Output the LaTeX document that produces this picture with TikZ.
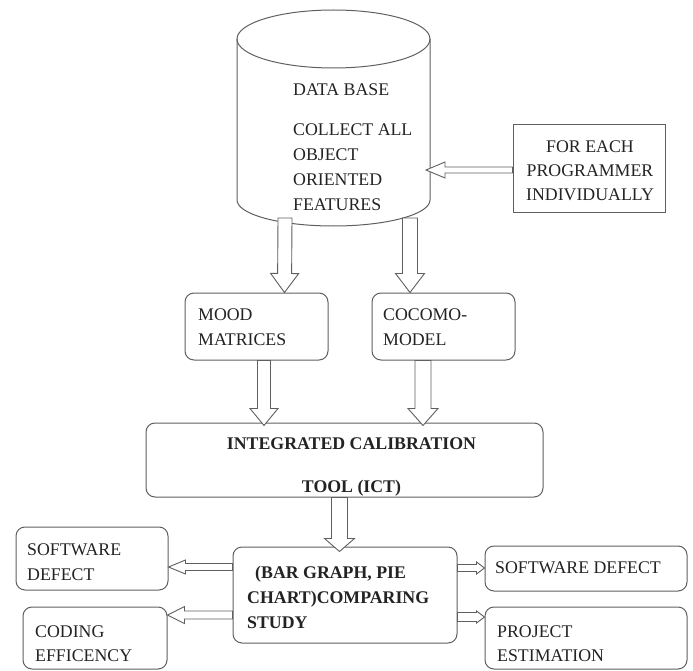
\documentclass[tikz,border=0pt]{standalone}
\usepackage{fontspec}
\setmainfont{Liberation Serif}
\usetikzlibrary{calc,fit}
\definecolor{ln}{RGB}{95,95,95}
\definecolor{ink}{RGB}{35,35,35}
\tikzset{
  txt/.style={font=\fontsize{17.8pt}{25pt}\selectfont, inner sep=0pt, text=ink},
  txtb/.style={inner sep=0pt, text=ink, font=\fontsize{17.8pt}{25pt}\selectfont\bfseries},
  sbox/.style={draw=ln, line width=1pt, inner sep=0pt},
  rbox/.style={sbox, rounded corners=9pt},
  outl/.style={draw=ln, line width=1pt},
  blk/.style n args={3}{draw=ln, line width=0.9pt, fill=white,
    to path={
      ($(\tikztotarget)!#3!(\tikztostart)$) coordinate (bah)
      ($(\tikztostart)!#1!90:(\tikztotarget)$) --
      ($(bah)!#1!90:(\tikztotarget)$) --
      ($(bah)!#2!90:(\tikztotarget)$) --
      (\tikztotarget) --
      ($(bah)!#2!-90:(\tikztotarget)$) --
      ($(bah)!#1!-90:(\tikztotarget)$) --
      ($(\tikztostart)!#1!-90:(\tikztotarget)$) -- cycle
    }},
}
\begin{document}
\begin{tikzpicture}[x=1pt,y=-1pt]
\useasboundingbox (0,0) rectangle (693,671);
% database cylinder
\draw[outl] (237,39) -- (237,200) arc[start angle=180, end angle=360, x radius=96.5pt, y radius=26pt] -- (430,39);
\draw[outl] (333.5,39) ellipse[x radius=96.5pt, y radius=29pt];
\node[txt, align=left, anchor=west] (dbt) at (293,147.5) {DATA BASE\\[15pt]COLLECT ALL\\OBJECT\\ORIENTED\\FEATURES};
\coordinate (dbl) at (285,218);
\coordinate (dbr) at (410,218);
\coordinate (dbin) at (426,170);
% boxes
\node[sbox, fit={(513,125) (665,212)}] (prog) {};
\node[rbox, fit={(185,293) (328,360)}] (mood) {};
\node[rbox, fit={(372,293) (515,360)}] (coco) {};
\node[rbox, fit={(146,423) (543,497)}] (ict) {};
\node[rbox, fit={(233,547) (457,643)}] (cmp) {};
\node[rbox, fit={(16,527) (168,590)}] (sd1) {};
\node[rbox, fit={(23,607) (167,669)}] (cod) {};
\node[rbox, fit={(485,546) (687,591)}] (sd2) {};
\node[rbox, fit={(485,607) (687,669)}] (prj) {};
% texts
\node[txt, align=center] (progt) at (590,171) {FOR EACH\\[-1pt]PROGRAMMER\\[-1pt]INDIVIDUALLY};
\node[txt, align=left, anchor=west] (moodt) at (198,327.5) {MOOD\\MATRICES};
\node[txt, align=left, anchor=west] (cocot) at (383,327.5) {COCOMO-\\MODEL};
\node[txtb, align=center] (ictt) at (351.5,466.5) {INTEGRATED CALIBRATION\\[18pt]TOOL (ICT)};
\node[txtb, align=left, anchor=west] (cmpt) at (247,597) {\hspace*{8pt}(BAR GRAPH, PIE\\CHART)COMPARING\\STUDY};
\node[txt, align=left, anchor=west] (sd1t) at (27,562.5) {SOFTWARE\\DEFECT};
\node[txt, align=left, anchor=west] (codt) at (35,643.5) {CODING\\[-1pt]EFFICENCY};
\node[txt, anchor=west] (sd2t) at (495,568) {SOFTWARE DEFECT};
\node[txt, align=left, anchor=west] (prjt) at (497,643.5) {PROJECT\\[-1pt]ESTIMATION};
% arrows
\draw[blk={7pt}{14pt}{19pt}] (dbl) to ([xshift=28pt]mood.north);
\draw[blk={7.5pt}{14.5pt}{19pt}] (dbr) to ([xshift=-33.5pt]coco.north);
\draw[blk={6.5pt}{14pt}{17pt}] ([xshift=7.5pt]mood.south) to ([xshift=-80.5pt,yshift=-3pt]ict.north);
\draw[blk={8pt}{15pt}{17pt}] ([xshift=-20.5pt]coco.south) to ([xshift=78.5pt,yshift=-3pt]ict.north);
\draw[blk={8pt}{15pt}{13pt}] ([xshift=-5pt]ict.south) to ([xshift=-5.5pt,yshift=-5pt]cmp.north);
\draw[blk={3pt}{8pt}{19pt}] ([yshift=-1.5pt]prog.west) to (dbin);
\draw[blk={3.5pt}{7pt}{17pt}] ([yshift=28pt]cmp.west) to ([yshift=-8.5pt]sd1.east);
\draw[blk={4pt}{8.5pt}{17pt}] ([yshift=-20pt]cmp.west) to ([yshift=23pt]cod.east);
\draw[blk={3.5pt}{6pt}{8pt}] ([yshift=27pt]cmp.east) to ([yshift=0.5pt]sd2.west);
\draw[blk={4.5pt}{6pt}{8pt}] ([yshift=-22pt]cmp.east) to ([yshift=21pt]prj.west);
\end{tikzpicture}
\end{document}
